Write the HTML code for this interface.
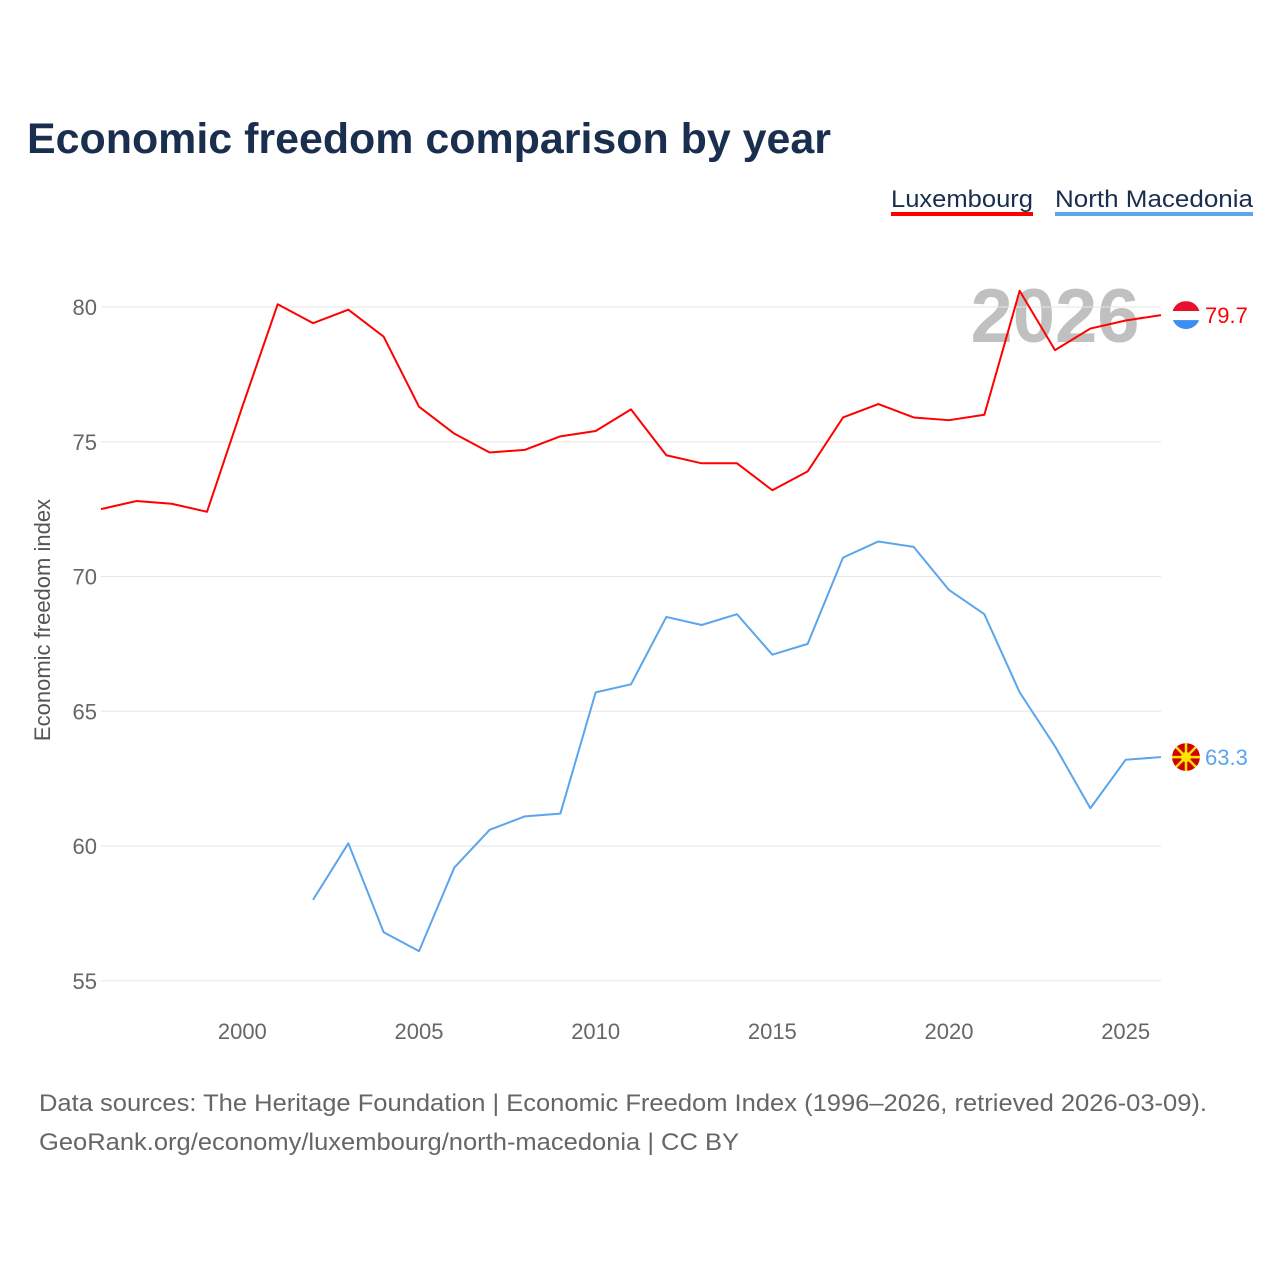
<!DOCTYPE html>
<html><head><meta charset="utf-8"><style>
body{margin:0;background:#fff;font-family:"Liberation Sans",sans-serif;}
svg text{font-family:"Liberation Sans",sans-serif;}
</style></head><body>
<svg id="chart" width="1280" height="1280" viewBox="0 0 1280 1280">
<defs>
<clipPath id="clipLux"><circle id="clipLuxC" cx="1186" cy="315" r="14"/></clipPath>
<clipPath id="clipMk"><circle id="clipMkC" cx="1186" cy="757" r="14"/></clipPath>
</defs>
<text x="27" y="153" font-size="43" font-weight="bold" fill="#1a2e4f" textLength="804" lengthAdjust="spacingAndGlyphs">Economic freedom comparison by year</text>
<g><text x="891" y="207" font-size="24" fill="#1a2e4f" textLength="142" lengthAdjust="spacingAndGlyphs">Luxembourg</text><rect x="891" y="212" width="142" height="4" fill="#f00"/></g>
<g><text x="1055" y="207" font-size="24" fill="#1a2e4f" textLength="198" lengthAdjust="spacingAndGlyphs">North Macedonia</text><rect x="1055" y="212" width="198" height="4" fill="#5aa5eb"/></g>
<text x="1055" y="342" font-size="76" font-weight="bold" fill="#c0c0c0" text-anchor="middle">2026</text>
<g id="grid"></g><g id="xt"></g><g id="lines"></g>
<text transform="translate(50,620) rotate(-90)" font-size="22" fill="#555" text-anchor="middle">Economic freedom index</text>
<text x="39" y="1111" font-size="24" fill="#666" textLength="1168" lengthAdjust="spacingAndGlyphs">Data sources: The Heritage Foundation | Economic Freedom Index (1996–2026, retrieved 2026-03-09).</text>
<text x="39" y="1150" font-size="24" fill="#666" textLength="700" lengthAdjust="spacingAndGlyphs">GeoRank.org/economy/luxembourg/north-macedonia | CC BY</text>
</svg>
<script>
const years=[1996,1997,1998,1999,2000,2001,2002,2003,2004,2005,2006,2007,2008,2009,2010,2011,2012,2013,2014,2015,2016,2017,2018,2019,2020,2021,2022,2023,2024,2025,2026];
const luxembourg=[72.5,72.8,72.7,72.4,76.3,80.1,79.4,79.9,78.9,76.3,75.3,74.6,74.7,75.2,75.4,76.2,74.5,74.2,74.2,73.2,73.9,75.9,76.4,75.9,75.8,76.0,80.6,78.4,79.2,79.5,79.7];
const macedonia=[null,null,null,null,null,null,58.0,60.1,56.8,56.1,59.2,60.6,61.1,61.2,65.7,66.0,68.5,68.2,68.6,67.1,67.5,70.7,71.3,71.1,69.5,68.6,65.7,63.7,61.4,63.2,63.3];
const yTicks=[55,60,65,70,75,80];
const xTicks=[2000,2005,2010,2015,2020,2025];
const NS='http://www.w3.org/2000/svg';
const X=v=>101+(v-1996)*(1060/30);
const Y=v=>307+(80-v)*26.95;
function mk(t,a,p){const e=document.createElementNS(NS,t);for(const k in a)e.setAttribute(k,a[k]);p.appendChild(e);return e;}
const g=document.getElementById('grid');
yTicks.forEach(v=>{
 const l=mk('line',{x1:101,x2:1161,y1:Y(v),y2:Y(v),stroke:'#e6e6e6','stroke-width':1},g);
 
 
 const t=mk('text',{x:97,y:Y(v)+8,'font-size':22,fill:'#666','text-anchor':'end'},g);t.textContent=v;
 
 
});
const xt=document.getElementById('xt');
xTicks.forEach(v=>{
 const t=mk('text',{x:X(v),y:1039,'font-size':22,fill:'#666','text-anchor':'middle'},xt);t.textContent=v;
 
 
});
const L=document.getElementById('lines');
function line(vals,col,name){
 let d='';vals.forEach((v,i)=>{if(v==null)return;d+=(d?'L':'M')+X(years[i])+','+Y(v);});
 const p=mk('path',{d:d,fill:'none',stroke:col,'stroke-width':2,'stroke-linejoin':'round'},L);
 
 
 const last=vals[vals.length-1];
 const t=mk('text',{x:1205,y:Y(last)+8,'font-size':22,fill:col},L);t.textContent=last.toFixed(1);
 
 
}
line(luxembourg,'#f00','luxembourg');
const fy=Y(luxembourg[luxembourg.length-1]);
document.getElementById('clipLuxC').setAttribute('cy',fy);
const lf=mk('g',{'clip-path':'url(#clipLux)'},L);


mk('rect',{x:1172,y:fy-14,width:28,height:10,fill:'#e8102e'},lf);
mk('rect',{x:1172,y:fy-4,width:28,height:9,fill:'#fff'},lf);
mk('rect',{x:1172,y:fy+5,width:28,height:10,fill:'#3d8ef0'},lf);
line(macedonia,'#5aa5eb','north-macedonia');
const my=Y(macedonia[macedonia.length-1]);
document.getElementById('clipMkC').setAttribute('cy',my);
const mf=mk('g',{'clip-path':'url(#clipMk)'},L);


mk('circle',{cx:1186,cy:my,r:14,fill:'#d20000'},mf);
for(let a=0;a<8;a++){const r=a*Math.PI/4;mk('line',{x1:1186,y1:my,x2:1186+16*Math.cos(r),y2:my+16*Math.sin(r),stroke:'#ffe600','stroke-width':2.5},mf);}
mk('circle',{cx:1186,cy:my,r:5,fill:'#ffe600'},mf);
</script>
</body></html>
